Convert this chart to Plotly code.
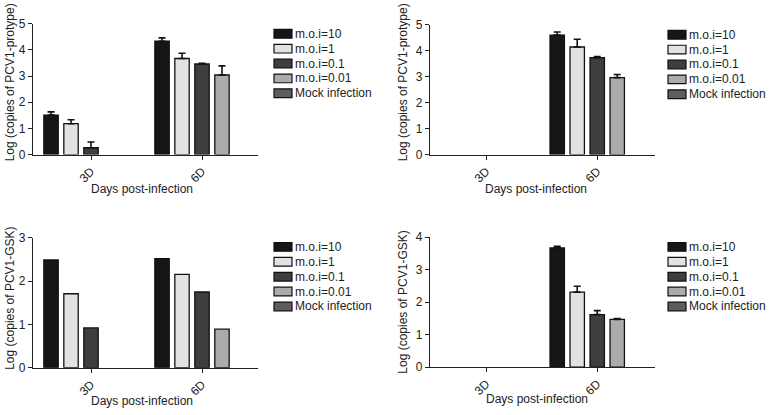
import plotly.graph_objects as go

days = ["3D", "6D"]
series_names = ["m.o.i=10", "m.o.i=1", "m.o.i=0.1", "m.o.i=0.01", "Mock infection"]
series_colors = ["#161616", "#e2e2e2", "#3e3e3e", "#ababab", "#5e5e5e"]

# None = nothing drawn in the figure (not detected)
# top-left: PCV1-protype, panel A
protype_a = [[1.51, 4.33], [1.18, 3.67], [0.26, 3.46], [None, 3.04], [None, None]]
protype_a_err = [[0.12, 0.13], [0.15, 0.20], [0.22, 0.03], [None, 0.35], [None, None]]
# top-right: PCV1-protype, panel B
protype_b = [[None, 4.60], [None, 4.14], [None, 3.73], [None, 2.96], [None, None]]
protype_b_err = [[None, 0.12], [None, 0.30], [None, 0.04], [None, 0.12], [None, None]]
# bottom-left: PCV1-GSK, panel A (no error bars shown)
gsk_a = [[2.49, 2.52], [1.71, 2.16], [0.92, 1.75], [None, 0.89], [None, None]]
# bottom-right: PCV1-GSK, panel B
gsk_b = [[None, 3.67], [None, 2.31], [None, 1.62], [None, 1.47], [None, None]]
gsk_b_err = [[None, 0.05], [None, 0.18], [None, 0.12], [None, 0.03], [None, None]]

W, H = 769, 415
FONT = "Liberation Sans, Arial, sans-serif"
AX = "#222222"
FS = 12

panels = [
    dict(vals=protype_a, errs=protype_a_err, xa="x", ya="y", xpx=(33, 258), ypx=(152.7, 17.3),
         ymax=5, xr=(-0.5225, 1.5045), ytitle="Log (copies of PCV1-protype)",
         ytx=10, yty=78, xtx=142, xty=188, legx=274, legy=27.7),
    dict(vals=protype_b, errs=protype_b_err, xa="x2", ya="y2", xpx=(430, 655), ypx=(152.7, 18.3),
         ymax=5, xr=(-0.505, 1.52), ytitle="Log (copies of PCV1-protype)",
         ytx=403, yty=78, xtx=536, xty=188, legx=668, legy=28.7),
    dict(vals=gsk_a, errs=None, xa="x3", ya="y3", xpx=(33, 258), ypx=(373.3, 239),
         ymax=3, xr=(-0.5225, 1.5045), ytitle="Log (copies of PCV1-GSK)",
         ytx=10, yty=302, xtx=142, xty=408, legx=274, legy=248.3),
    dict(vals=gsk_b, errs=gsk_b_err, xa="x4", ya="y4", xpx=(430, 655), ypx=(372.7, 238.3),
         ymax=4, xr=(-0.505, 1.52), ytitle="Log (copies of PCV1-GSK)",
         ytx=403, yty=306, xtx=537, xty=406, legx=668, legy=248.3),
]

fig = go.Figure()
shapes = []
annotations = []
layout_axes = {}

for p in panels:
    for i, name in enumerate(series_names):
        err = None
        if p["errs"] is not None:
            err = dict(type="data", symmetric=False, array=p["errs"][i],
                       arrayminus=[0] * len(days), color="#111111", thickness=1.6, width=3.5)
        fig.add_trace(go.Bar(
            x=days, y=p["vals"][i], name=name, showlegend=False,
            marker=dict(color=series_colors[i], line=dict(color="#111111", width=1.3)),
            error_y=err, xaxis=p["xa"], yaxis=p["ya"],
        ))

    xkey = "xaxis" + p["xa"][1:]
    ykey = "yaxis" + p["ya"][1:]
    layout_axes[xkey] = dict(
        domain=[p["xpx"][0] / W, p["xpx"][1] / W], anchor=p["ya"], range=list(p["xr"]),
        type="category", categoryarray=days, showline=True, linecolor=AX, linewidth=1.3,
        ticks="outside", ticklen=4, tickcolor=AX, tickangle=-45, showgrid=False, zeroline=False,
        tickfont=dict(size=FS, color="#222222", family=FONT),
    )
    layout_axes[ykey] = dict(
        domain=[1 - p["ypx"][0] / H, 1 - p["ypx"][1] / H], anchor=p["xa"], range=[0, p["ymax"]],
        dtick=1, showline=True, linecolor=AX, linewidth=1.3, ticks="outside", ticklen=4,
        tickcolor=AX, showgrid=False, zeroline=False,
        tickfont=dict(size=FS, color="#222222", family=FONT),
    )

    annotations.append(dict(
        text=p["ytitle"], x=p["ytx"] / W, y=1 - p["yty"] / H, xref="paper", yref="paper",
        textangle=-90, showarrow=False, xanchor="center", yanchor="middle",
        font=dict(size=FS, color="#222222", family=FONT),
    ))
    annotations.append(dict(
        text="Days post-infection", x=p["xtx"] / W, y=1 - p["xty"] / H, xref="paper", yref="paper",
        showarrow=False, xanchor="center", yanchor="middle",
        font=dict(size=FS, color="#222222", family=FONT),
    ))

    # legend drawn by hand so the spacing matches the figure
    for i, name in enumerate(series_names):
        cy = p["legy"] + i * 15.4
        shapes.append(dict(
            type="rect", xref="paper", yref="paper",
            x0=p["legx"] / W, x1=(p["legx"] + 18) / W,
            y0=1 - (cy + 4.5) / H, y1=1 - (cy - 4.5) / H,
            fillcolor=series_colors[i], line=dict(color="#111111", width=1.2),
        ))
        annotations.append(dict(
            text=name, x=(p["legx"] + 19) / W, y=1 - cy / H, xref="paper", yref="paper",
            showarrow=False, xanchor="left", yanchor="middle",
            font=dict(size=FS, color="#222222", family=FONT),
        ))

fig.update_layout(
    width=W, height=H, margin=dict(l=0, r=0, t=0, b=0),
    paper_bgcolor="white", plot_bgcolor="white",
    barmode="group", bargap=0.1, bargroupgap=0.28,
    showlegend=False, shapes=shapes, annotations=annotations,
    font=dict(family=FONT, color="#222222"),
    **layout_axes,
)

# drop the browser's default 8px body margin so the figure sits at the window corner
fig.write_html("out.html", config={"displayModeBar": False},
               post_script="document.body.style.margin='0';")
